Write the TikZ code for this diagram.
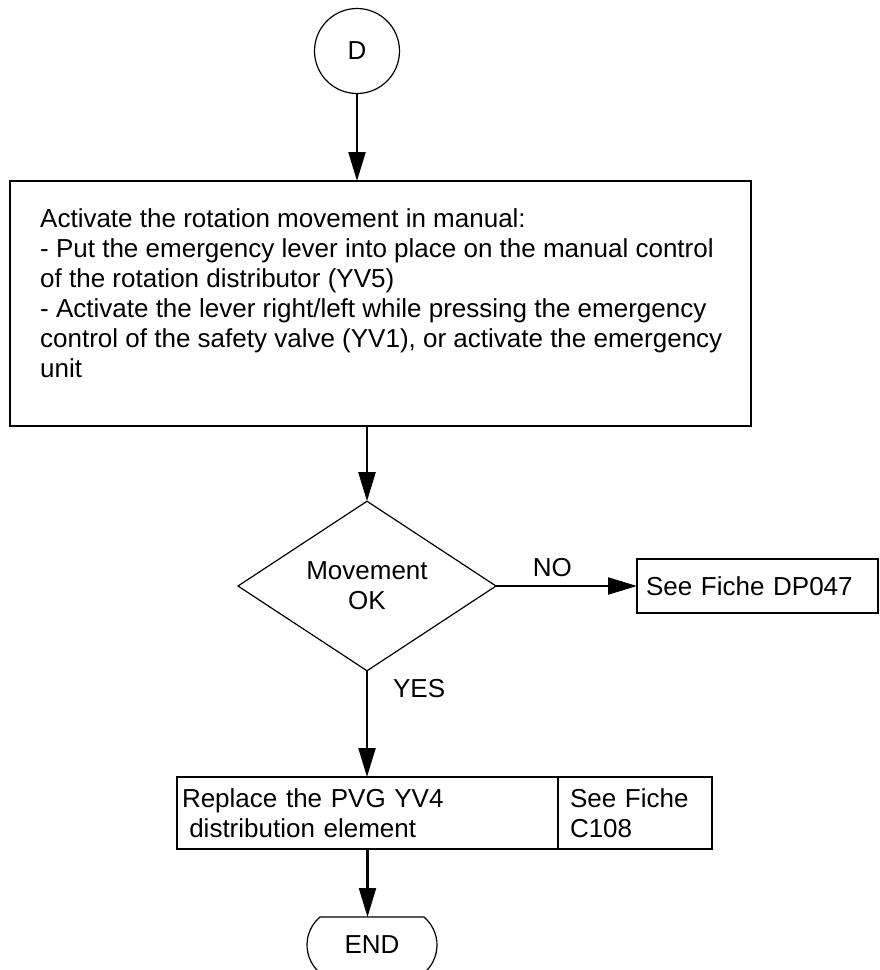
\documentclass[tikz,border=0pt]{standalone}
\usepackage{fontspec}
\setmainfont{Liberation Sans}
\usetikzlibrary{arrows.meta,shapes.geometric,shapes.misc}

\begin{document}
\begin{tikzpicture}[x=1pt,y=-1pt,
  font=\fontsize{26}{30}\selectfont,
  box/.style={draw,line width=2.2pt,rectangle,outer sep=0pt,inner ysep=0pt,align=left},
  outline/.style={draw,line width=1.2pt,outer sep=0pt},
  flow/.style={line width=2.2pt,-{Triangle[length=29pt,width=17pt]}}]
\useasboundingbox (0,0) rectangle (880,970);
% start point
\node[outline,circle,minimum size=85pt,inner sep=0pt] (D) at (357,51) {D};
% manual rotation check
\node[box,anchor=north west,minimum width=741pt,minimum height=245pt] (act) at (10,181) {};
\node[anchor=north west,align=left,inner sep=0pt] (acttxt) at (40,208)
  {Activate the rotation movement in manual:\\
   - Put the emergency lever into place on the manual control\\
   of the rotation distributor (YV5)\\
   - Activate the lever right/left while pressing the emergency\\
   control of the safety valve (YV1), or activate the emergency\\
   unit};
% test
\node[outline,diamond,minimum width=258pt,minimum height=155pt,inner sep=0pt,align=center] (ok) at (367,586) {Movement\\OK};
\node[box,anchor=north west,minimum height=54pt,text width=223pt,inner xsep=9pt] (dp) at (637,559) {See Fiche DP047};
% repair
\node[box,anchor=north west,minimum height=72pt,text width=371pt,inner xsep=5pt] (repl) at (177,777)
  {Replace the PVG YV4\\\hspace*{.28em}distribution element};
\node[box,anchor=north west,minimum height=72pt,text width=130pt,inner xsep=12pt] (fiche) at (repl.north east)
  {See Fiche\\C108};
% end point
\node[outline,rounded rectangle,rounded rectangle arc length=100,minimum width=130pt,minimum height=56pt,inner sep=0pt] (stop) at (372,945) {END};
% connectors
\draw[flow] (D) -- (D |- act.north);
\draw[flow] (ok.north |- act.south) -- (ok);
\draw[flow] (ok.east) -- node[pos=0.4,above,inner sep=8pt] {NO} (dp.west);
\draw[flow] (ok) -- node[pos=0.17,anchor=west,inner sep=0pt,xshift=25pt] {YES} (ok |- repl.north);
\draw[flow] (repl) -- (repl |- stop.north);
\end{tikzpicture}
\end{document}
